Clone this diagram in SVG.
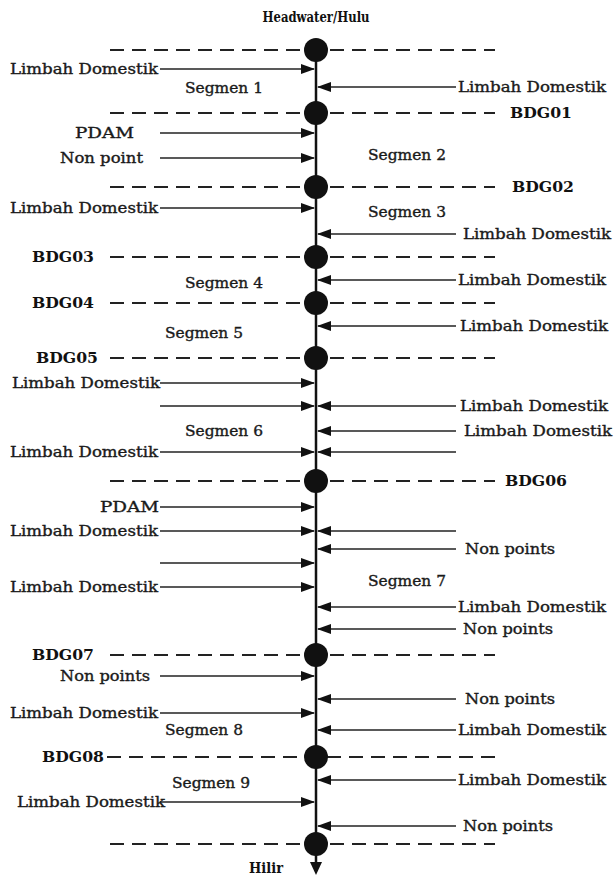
<svg xmlns="http://www.w3.org/2000/svg" width="614" height="875" viewBox="0 0 614 875">
<style>
.t{font-family:"DejaVu Serif","Liberation Serif",serif;font-size:14px;fill:#1a1a1a;stroke:#1a1a1a;stroke-width:0.35}
.b{font-family:"DejaVu Serif","Liberation Serif",serif;font-size:14px;font-weight:bold;fill:#111}
.e{text-anchor:end}
.m{text-anchor:middle}
.dash{stroke:#222;stroke-width:2;stroke-dasharray:14 8;fill:none}
.st{fill:#111}
.a{stroke:#222;stroke-width:1.6;fill:none;marker-end:url(#ah)}
.river{stroke:#111;stroke-width:2.5;fill:none}
</style>
<defs>
<marker id="ah" markerUnits="userSpaceOnUse" markerWidth="14" markerHeight="10" refX="13" refY="5" orient="auto">
<path d="M0,0 L14,5 L0,10 z" fill="#111"/>
</marker>
</defs>
<rect width="614" height="875" fill="#fff"/>
<g id="title"><text class="b m" x="316" y="22" textLength="107" lengthAdjust="spacingAndGlyphs">Headwater/Hulu</text></g>
<g id="connectors">
<line class="river" x1="316" y1="49" x2="316" y2="864"/>
<path d="M310,862 L322,862 L316,875 z" fill="#111"/>
<line class="a" x1="160" y1="69" x2="314" y2="69"/>
<line class="a" x1="160" y1="133" x2="314" y2="133"/>
<line class="a" x1="160" y1="158" x2="314" y2="158"/>
<line class="a" x1="160" y1="208" x2="314" y2="208"/>
<line class="a" x1="160" y1="383" x2="314" y2="383"/>
<line class="a" x1="160" y1="406" x2="314" y2="406"/>
<line class="a" x1="160" y1="452" x2="314" y2="452"/>
<line class="a" x1="160" y1="507" x2="314" y2="507"/>
<line class="a" x1="160" y1="531" x2="314" y2="531"/>
<line class="a" x1="160" y1="563" x2="314" y2="563"/>
<line class="a" x1="160" y1="587" x2="314" y2="587"/>
<line class="a" x1="160" y1="676" x2="314" y2="676"/>
<line class="a" x1="160" y1="713" x2="314" y2="713"/>
<line class="a" x1="160" y1="802" x2="314" y2="802"/>
<line class="a" x1="456" y1="87" x2="318" y2="87"/>
<line class="a" x1="456" y1="234" x2="318" y2="234"/>
<line class="a" x1="456" y1="280" x2="318" y2="280"/>
<line class="a" x1="456" y1="326" x2="318" y2="326"/>
<line class="a" x1="456" y1="406" x2="318" y2="406"/>
<line class="a" x1="456" y1="431" x2="318" y2="431"/>
<line class="a" x1="456" y1="452" x2="318" y2="452"/>
<line class="a" x1="456" y1="531" x2="318" y2="531"/>
<line class="a" x1="456" y1="549" x2="318" y2="549"/>
<line class="a" x1="456" y1="607" x2="318" y2="607"/>
<line class="a" x1="456" y1="629" x2="318" y2="629"/>
<line class="a" x1="456" y1="699" x2="318" y2="699"/>
<line class="a" x1="456" y1="730" x2="318" y2="730"/>
<line class="a" x1="456" y1="780" x2="318" y2="780"/>
<line class="a" x1="456" y1="826" x2="318" y2="826"/>
</g>
<g id="hulu"><line class="dash" x1="110" y1="50" x2="495" y2="50"/><circle class="st" cx="316" cy="50" r="12"/></g>
<g id="BDG01"><line class="dash" x1="110" y1="113" x2="495" y2="113"/><circle class="st" cx="316" cy="113" r="12"/><text class="b" x="510" y="118" textLength="62" lengthAdjust="spacingAndGlyphs">BDG01</text></g>
<g id="BDG02"><line class="dash" x1="110" y1="187" x2="495" y2="187"/><circle class="st" cx="316" cy="187" r="12"/><text class="b" x="512" y="192" textLength="62" lengthAdjust="spacingAndGlyphs">BDG02</text></g>
<g id="BDG03"><line class="dash" x1="110" y1="257" x2="495" y2="257"/><circle class="st" cx="316" cy="257" r="12"/><text class="b" x="32" y="262" textLength="62" lengthAdjust="spacingAndGlyphs">BDG03</text></g>
<g id="BDG04"><line class="dash" x1="110" y1="303" x2="495" y2="303"/><circle class="st" cx="316" cy="303" r="12"/><text class="b" x="32" y="308" textLength="62" lengthAdjust="spacingAndGlyphs">BDG04</text></g>
<g id="BDG05"><line class="dash" x1="110" y1="358" x2="495" y2="358"/><circle class="st" cx="316" cy="358" r="12"/><text class="b" x="36" y="363" textLength="62" lengthAdjust="spacingAndGlyphs">BDG05</text></g>
<g id="BDG06"><line class="dash" x1="110" y1="481" x2="495" y2="481"/><circle class="st" cx="316" cy="481" r="12"/><text class="b" x="505" y="486" textLength="62" lengthAdjust="spacingAndGlyphs">BDG06</text></g>
<g id="BDG07"><line class="dash" x1="110" y1="655" x2="495" y2="655"/><circle class="st" cx="316" cy="655" r="12"/><text class="b" x="32" y="660" textLength="62" lengthAdjust="spacingAndGlyphs">BDG07</text></g>
<g id="BDG08"><line class="dash" x1="107" y1="757" x2="495" y2="757"/><circle class="st" cx="316" cy="757" r="12"/><text class="b" x="42" y="762" textLength="62" lengthAdjust="spacingAndGlyphs">BDG08</text></g>
<g id="hilir"><line class="dash" x1="110" y1="844" x2="495" y2="844"/><circle class="st" cx="316" cy="844" r="12"/><text class="b" x="249" y="873" textLength="34" lengthAdjust="spacingAndGlyphs">Hilir</text></g>
<g id="segments">
<text class="t" x="185" y="93" textLength="78" lengthAdjust="spacingAndGlyphs">Segmen 1</text>
<text class="t" x="368" y="160" textLength="78" lengthAdjust="spacingAndGlyphs">Segmen 2</text>
<text class="t" x="368" y="217" textLength="78" lengthAdjust="spacingAndGlyphs">Segmen 3</text>
<text class="t" x="185" y="288" textLength="78" lengthAdjust="spacingAndGlyphs">Segmen 4</text>
<text class="t" x="165" y="338" textLength="78" lengthAdjust="spacingAndGlyphs">Segmen 5</text>
<text class="t" x="185" y="436" textLength="78" lengthAdjust="spacingAndGlyphs">Segmen 6</text>
<text class="t" x="368" y="586" textLength="78" lengthAdjust="spacingAndGlyphs">Segmen 7</text>
<text class="t" x="165" y="735" textLength="78" lengthAdjust="spacingAndGlyphs">Segmen 8</text>
<text class="t" x="172" y="788" textLength="78" lengthAdjust="spacingAndGlyphs">Segmen 9</text>
</g>
<g id="sources-left">
<text class="t" x="10" y="74" textLength="148" lengthAdjust="spacingAndGlyphs">Limbah Domestik</text>
<text class="t" x="75" y="138" textLength="59" lengthAdjust="spacingAndGlyphs">PDAM</text>
<text class="t" x="60" y="163" textLength="83" lengthAdjust="spacingAndGlyphs">Non point</text>
<text class="t" x="10" y="213" textLength="148" lengthAdjust="spacingAndGlyphs">Limbah Domestik</text>
<text class="t" x="12" y="388" textLength="148" lengthAdjust="spacingAndGlyphs">Limbah Domestik</text>
<text class="t" x="10" y="457" textLength="148" lengthAdjust="spacingAndGlyphs">Limbah Domestik</text>
<text class="t" x="100" y="512" textLength="59" lengthAdjust="spacingAndGlyphs">PDAM</text>
<text class="t" x="10" y="536" textLength="148" lengthAdjust="spacingAndGlyphs">Limbah Domestik</text>
<text class="t" x="10" y="592" textLength="148" lengthAdjust="spacingAndGlyphs">Limbah Domestik</text>
<text class="t" x="60" y="681" textLength="90" lengthAdjust="spacingAndGlyphs">Non points</text>
<text class="t" x="10" y="718" textLength="148" lengthAdjust="spacingAndGlyphs">Limbah Domestik</text>
<text class="t" x="17" y="807" textLength="148" lengthAdjust="spacingAndGlyphs">Limbah Domestik</text>
</g>
<g id="sources-right">
<text class="t" x="458" y="92" textLength="148" lengthAdjust="spacingAndGlyphs">Limbah Domestik</text>
<text class="t" x="463" y="239" textLength="148" lengthAdjust="spacingAndGlyphs">Limbah Domestik</text>
<text class="t" x="458" y="285" textLength="148" lengthAdjust="spacingAndGlyphs">Limbah Domestik</text>
<text class="t" x="460" y="331" textLength="148" lengthAdjust="spacingAndGlyphs">Limbah Domestik</text>
<text class="t" x="460" y="411" textLength="148" lengthAdjust="spacingAndGlyphs">Limbah Domestik</text>
<text class="t" x="464" y="436" textLength="148" lengthAdjust="spacingAndGlyphs">Limbah Domestik</text>
<text class="t" x="465" y="554" textLength="90" lengthAdjust="spacingAndGlyphs">Non points</text>
<text class="t" x="458" y="612" textLength="148" lengthAdjust="spacingAndGlyphs">Limbah Domestik</text>
<text class="t" x="463" y="634" textLength="90" lengthAdjust="spacingAndGlyphs">Non points</text>
<text class="t" x="465" y="704" textLength="90" lengthAdjust="spacingAndGlyphs">Non points</text>
<text class="t" x="458" y="735" textLength="148" lengthAdjust="spacingAndGlyphs">Limbah Domestik</text>
<text class="t" x="458" y="785" textLength="148" lengthAdjust="spacingAndGlyphs">Limbah Domestik</text>
<text class="t" x="463" y="831" textLength="90" lengthAdjust="spacingAndGlyphs">Non points</text>
</g>
</svg>
